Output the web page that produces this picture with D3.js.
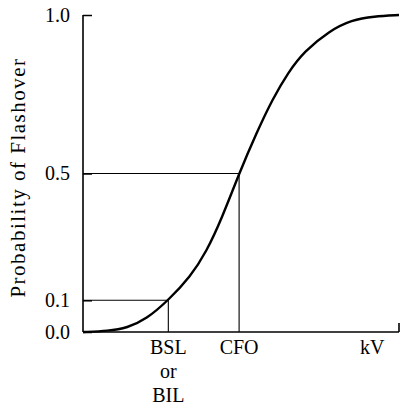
<!DOCTYPE html>
<html>
<head>
<meta charset="utf-8">
<script src="https://cdn.jsdelivr.net/npm/d3@7"></script>
<style>
  body { margin: 0; background: #fff; }
  text { font-family: "Liberation Serif", "DejaVu Serif", serif; fill: #000; }
</style>
</head>
<body>
<div id="chart-area"></div>
<script>
// voltage in relative units (0..100 across the axis), probability
let curveKV   = [0, 8, 14, 20, 27, 34, 39, 44, 49.4, 55, 60, 65, 70, 78, 85, 92, 100];
let curveProb = [0, 0.003, 0.013, 0.04, 0.1, 0.175, 0.252, 0.36, 0.5, 0.63, 0.735, 0.82, 0.885, 0.95, 0.984, 0.996, 1.0];

let yTicks = [0.0, 0.1, 0.5, 1.0];
let yTickLabels = ["0.0", "0.1", "0.5", "1.0"];

// marked points on the x axis
let markKV = [27, 49.4];
let markProb = [0.1, 0.5];
let xLabelKV = [27, 49.4, 91.5];
let xLabels = [["BSL", "or", "BIL"], ["CFO"], ["kV"]];

let margin = {top: 15, right: 1, bottom: 74, left: 83};
let width = 400 - margin.left - margin.right;
let height = 406 - margin.top - margin.bottom;

let svg = d3.select("#chart-area").append("svg")
    .attr("width", 400)
    .attr("height", 406)
  .append("g")
    .attr("transform", "translate(" + margin.left + "," + margin.top + ")");

let x = d3.scaleLinear().domain([0, 100]).range([0, width]);
let y = d3.scaleLinear().domain([0, 1]).range([height, 0]);

// guide lines to the axes
markKV.forEach((k, i) => {
  svg.append("line")
    .attr("x1", 0).attr("x2", x(k))
    .attr("y1", y(markProb[i])).attr("y2", y(markProb[i]))
    .attr("stroke", "#000").attr("stroke-width", 1.1);
  svg.append("line")
    .attr("x1", x(k)).attr("x2", x(k))
    .attr("y1", y(markProb[i])).attr("y2", y(0))
    .attr("stroke", "#000").attr("stroke-width", 1.1);
});

// y axis
let yAxis = d3.axisLeft(y)
  .tickValues(yTicks)
  .tickFormat((d, i) => yTickLabels[i])
  .tickSize(-9)
  .tickPadding(13);

let yAxisGroup = svg.append("g").call(yAxis);
yAxisGroup.select(".domain").remove();
yAxisGroup.selectAll("line").attr("stroke", "#000").attr("stroke-width", 1.5);
yAxisGroup.selectAll("text")
  .attr("font-size", 20)
  .attr("font-family", "Liberation Serif")
  .attr("fill", "#000");

svg.append("line")
  .attr("x1", 0).attr("x2", 0)
  .attr("y1", y(1)).attr("y2", y(0))
  .attr("stroke", "#000").attr("stroke-width", 1.6);

// x axis
svg.append("line")
  .attr("x1", 0).attr("x2", x(100))
  .attr("y1", y(0)).attr("y2", y(0))
  .attr("stroke", "#000").attr("stroke-width", 1.6);
svg.append("line")
  .attr("x1", x(100)).attr("x2", x(100))
  .attr("y1", y(0)).attr("y2", y(0) - 9)
  .attr("stroke", "#000").attr("stroke-width", 1.6);

xLabelKV.forEach((k, i) => {
  xLabels[i].forEach((t, j) => {
    svg.append("text")
      .attr("x", x(k))
      .attr("y", y(0) + 22 + j * 24)
      .attr("text-anchor", "middle")
      .attr("font-size", 20)
      .text(t);
  });
});

// the curve
let points = curveKV.map((k, i) => [k, curveProb[i]]);
svg.append("path")
  .datum(points)
  .attr("fill", "none")
  .attr("stroke", "#000")
  .attr("stroke-width", 2.4)
  .attr("d", d3.line()
    .x(d => x(d[0]))
    .y(d => y(d[1]))
    .curve(d3.curveBasis));

// y label
svg.append("text")
  .attr("transform", "rotate(-90)")
  .attr("x", -(y(0.5) + 4))
  .attr("y", -58)
  .attr("text-anchor", "middle")
  .attr("font-size", 21)
  .attr("letter-spacing", 1.5)
  .text("Probability of Flashover");
</script>
</body>
</html>
